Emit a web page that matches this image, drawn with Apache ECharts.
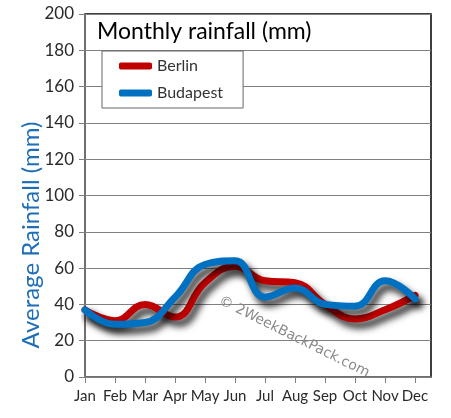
<!DOCTYPE html>
<html>
<head>
<meta charset="utf-8">
<script src="https://cdn.jsdelivr.net/npm/echarts@6/dist/echarts.min.js"></script>
<style>html,body{margin:0;padding:0;background:#fff}#c{width:451px;height:418px}</style>
</head>
<body>
<div id="c"></div>
<script>
var months = ['Jan','Feb','Mar','Apr','May','Jun','Jul','Aug','Sep','Oct','Nov','Dec'];
var berlin = [37, 31, 40, 33, 52, 61, 53, 52, 40, 32, 37, 45];
var budapest = [37, 29, 30, 44, 62, 64, 44, 49, 40, 39, 53, 43];
var yTicks = [0, 20, 40, 60, 80, 100, 120, 140, 160, 180, 200];

var idx = months.map(function (m, i) { return i; });
function pairs(arr) { return arr.map(function (v, i) { return [i, v]; }); }

var FONT = 'Lato';
var chart = echarts.init(document.getElementById('c'), null, {renderer: 'canvas'});
var shadow = {shadowColor: 'rgba(0,0,0,0.85)', shadowBlur: 7, shadowOffsetX: 4, shadowOffsetY: 6};
chart.setOption({
  animation: false,
  backgroundColor: '#fff',
  title: {
    text: 'Monthly rainfall (mm)', left: 92, top: 15,
    textStyle: {fontFamily: FONT, fontSize: 23, fontWeight: 'normal', color: '#000'}
  },
  legend: {
    orient: 'vertical', left: 102, top: 51,
    padding: [7, 20, 7, 17], itemGap: 11,
    borderColor: '#666', borderWidth: 1, backgroundColor: '#fff',
    icon: 'roundRect', itemWidth: 33, itemHeight: 7,
    textStyle: {fontFamily: FONT, fontSize: 16, color: '#333', padding: [0, 0, 0, 0]},
    data: ['Berlin', 'Budapest']
  },
  grid: {left: 85, right: 20, top: 14, bottom: 41, show: true, borderColor: '#000', borderWidth: 1.5, containLabel: false},
  xAxis: {
    type: 'value', min: 0, max: 11.533, interval: 1,
    axisLine: {show: true, lineStyle: {color: '#808080', width: 1.5}},
    axisTick: {show: true, length: 6, customValues: idx, lineStyle: {color: '#808080'}},
    axisLabel: {customValues: idx, margin: 12, fontFamily: FONT, fontSize: 15, color: '#2a2a2a',
      formatter: function (v) { return months[Math.round(v)] || ''; }},
    splitLine: {show: false}
  },
  yAxis: {
    type: 'value', min: 0, max: 200, interval: 20,
    axisLine: {show: true, lineStyle: {color: '#808080', width: 1.5}},
    axisTick: {show: true, length: 6, lineStyle: {color: '#808080'}},
    axisLabel: {margin: 11, fontFamily: FONT, fontSize: 17, color: '#2a2a2a',
      formatter: function (v) { return yTicks.indexOf(v) >= 0 ? String(v) : ''; }},
    splitLine: {show: true, lineStyle: {color: '#808080', width: 1.2}}
  },
  graphic: [
    {type: 'text', x: 31, y: 235, rotation: Math.PI / 2, z: 10,
      style: {text: 'Average Rainfall (mm)', fill: '#1f6eb8', font: '24px Lato', align: 'center', verticalAlign: 'middle'}},
    {type: 'text', x: 294, y: 337, rotation: -0.46, z: 1,
      style: {text: '\u00a9 2WeekBackPack.com', fill: '#8a8a8a', font: '14px "DejaVu Sans"', align: 'center', verticalAlign: 'middle'}}
  ],
  series: [
    {name: 'Berlin', type: 'line', data: pairs(berlin), smooth: 0.45, showSymbol: false, symbol: 'none',
      color: '#c00000', lineStyle: Object.assign({width: 7, color: '#c00000', cap: 'round'}, shadow), z: 3},
    {name: 'Budapest', type: 'line', data: pairs(budapest), smooth: 0.45, showSymbol: false, symbol: 'none',
      color: '#0070c0', lineStyle: Object.assign({width: 7, color: '#0070c0', cap: 'round'}, shadow), z: 4}
  ]
});
</script>
</body>
</html>
